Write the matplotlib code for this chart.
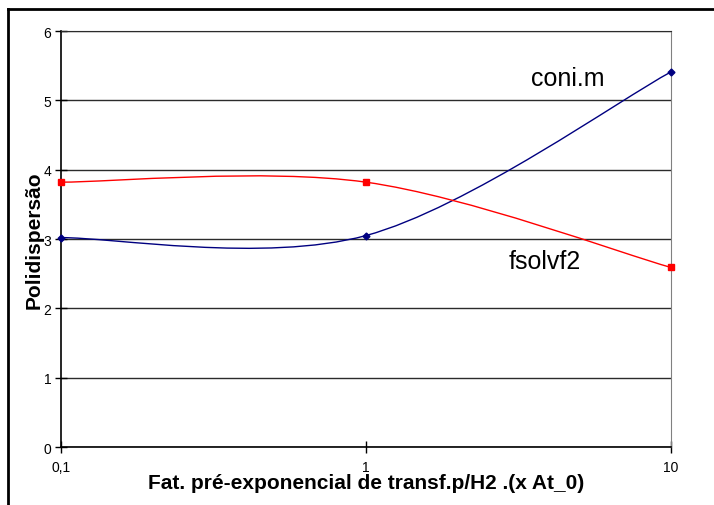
import numpy as np
import matplotlib.pyplot as plt
from matplotlib.path import Path
from matplotlib.patches import PathPatch
from matplotlib.lines import Line2D

plt.rcParams['font.family'] = ['Liberation Sans', 'DejaVu Sans']

# data
x_vals = [0.1, 1, 10]
coni_m = [3.02, 3.05, 5.41]
fsolvf2 = [3.82, 3.82, 2.59]
x_ticklabels = ['0,1', '1', '10']


def smooth_path(xs, ys):
    # Excel-style smoothed line: cubic Bezier, Catmull-Rom control points
    p = np.column_stack([np.log10(xs), ys])
    pts = np.vstack([p[0], p, p[-1]])
    verts = [p[0]]
    codes = [Path.MOVETO]
    for i in range(1, len(pts) - 2):
        c1 = pts[i] + (pts[i + 1] - pts[i - 1]) / 6
        c2 = pts[i + 1] - (pts[i + 2] - pts[i]) / 6
        verts += [c1, c2, pts[i + 1]]
        codes += [Path.CURVE4] * 3
    return Path(verts, codes)


fig = plt.figure(figsize=(7.14, 5.06), dpi=100)
ax = fig.add_axes([0.0854, 0.1146, 0.8543, 0.8221])
ax.set_xscale('log')
ax.set_xlim(0.1, 10)
ax.set_ylim(0, 6)

ax.set_yticks(range(0, 7))
ax.set_xticks(x_vals)
ax.set_xticklabels(x_ticklabels)
ax.xaxis.set_minor_locator(plt.NullLocator())
ax.tick_params(axis='y', direction='inout', length=8, width=1, labelsize=10, pad=3)
ax.tick_params(axis='x', direction='inout', length=8, width=1, labelsize=10, pad=5)
ax.grid(axis='y', color='#2b2b2b', linewidth=1)
ax.set_axisbelow(True)

for s in ['left', 'bottom']:
    ax.spines[s].set_color('black')
    ax.spines[s].set_linewidth(1.2)
ax.spines['right'].set_color('#808080')
ax.spines['top'].set_color('#2b2b2b')

tr = ax.transLimits + ax.transAxes
for ys, col, mk, ms in [(coni_m, '#000080', 'D', 3.5), (fsolvf2, '#ff0000', 's', 5)]:
    ax.add_patch(PathPatch(smooth_path(x_vals, ys), transform=tr, facecolor='none',
                           edgecolor=col, linewidth=1, clip_on=False))
    ax.plot(x_vals, ys, linestyle='none', marker=mk, markersize=ms, color=col,
            clip_on=False, zorder=5)

ax.text(4.58, 5.32, 'coni.m', fontsize=18, ha='center', va='center')
ax.text(3.86, 2.68, 'fsolvf2', fontsize=18, ha='center', va='center')

ax.set_xlabel('Fat. pré-exponencial de transf.p/H2 .(x At_0)', fontsize=15,
              fontweight='bold')
ax.set_ylabel('Polidispersão', fontsize=15, fontweight='bold')
ax.xaxis.set_label_coords(0.5, -0.063)
ax.yaxis.set_label_coords(-0.029, 0.5)

# outer chart border (top and left visible)
fig.add_artist(Line2D([8 / 714, 1], [1 - 10 / 506, 1 - 10 / 506], color='black',
                      linewidth=2, transform=fig.transFigure))
fig.add_artist(Line2D([8 / 714, 8 / 714], [0, 1 - 10 / 506], color='black',
                      linewidth=2, transform=fig.transFigure))

fig.savefig('out.png', dpi=100)
